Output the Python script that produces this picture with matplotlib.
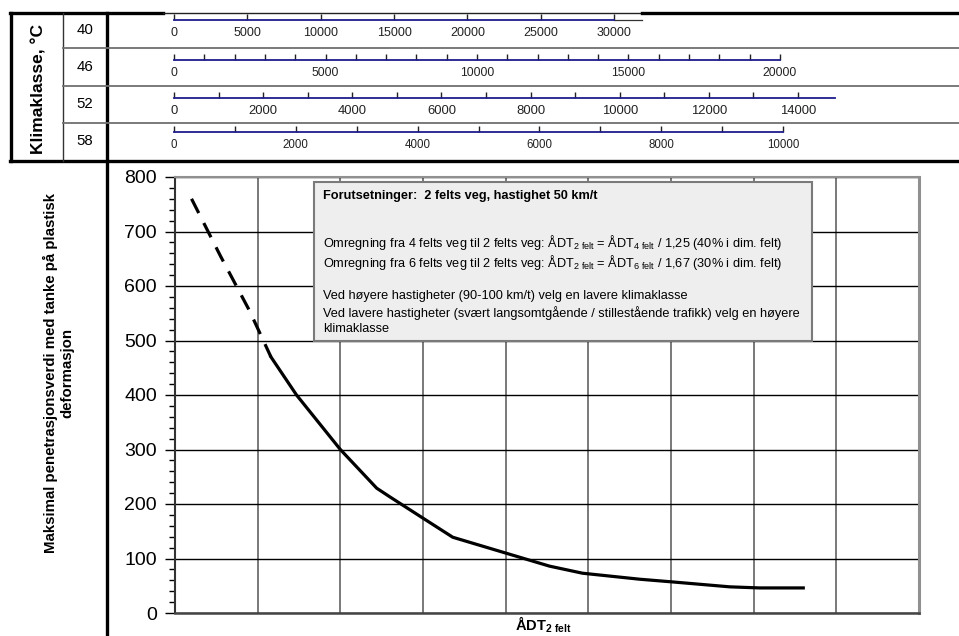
import matplotlib
matplotlib.use("Agg")
import matplotlib.pyplot as plt
from matplotlib.patches import Rectangle
from matplotlib.ticker import MultipleLocator

plt.rcParams['font.family'] = ['Liberation Sans', 'DejaVu Sans']
plt.rcParams['mathtext.fontset'] = 'custom'
plt.rcParams['mathtext.rm'] = 'Liberation Sans'
plt.rcParams['mathtext.bf'] = 'Liberation Sans:bold'

# --- data ---
klima_classes = ["40", "46", "52", "58"]
scale_max = [30000, 20000, 14000, 10000]      # last labelled ADT value per climate class
scale_label_step = [5000, 5000, 2000, 2000]
scale_minor_step = [5000, 1000, 1000, 1000]

# penetration curve, x in grid units (0..9)
dash_x = [0.2, 0.55, 0.9, 1.16]
dash_y = [760, 655, 555, 470]
curve_x = [1.16, 1.47, 2.0, 2.44, 2.6, 3.0, 3.36, 4.0, 4.53, 4.93, 5.62, 6.02, 6.71, 7.07, 7.6]
curve_y = [470, 400, 300, 229, 213, 174, 139, 110, 86, 73, 62, 57, 48, 46, 46]

box_lines = [
    ("Forutsetninger:  2 felts veg, hastighet 50 km/t", "bold"),
    ("", "normal"),
    (r"Omregning fra 4 felts veg til 2 felts veg: ÅDT$_{\rm 2\ felt}$ = ÅDT$_{\rm 4\ felt}$ / 1,25 (40% i dim. felt)", "normal"),
    (r"Omregning fra 6 felts veg til 2 felts veg: ÅDT$_{\rm 2\ felt}$ = ÅDT$_{\rm 6\ felt}$ / 1,67 (30% i dim. felt)", "normal"),
    ("", "normal"),
    ("Ved høyere hastigheter (90-100 km/t) velg en lavere klimaklasse", "normal"),
    ("Ved lavere hastigheter (svært langsomtgående / stillestående trafikk) velg en høyere", "normal"),
    ("klimaklasse", "normal"),
]

W, H = 959, 636


def rect_px(x0, y0, x1, y1):
    return [x0 / W, 1 - y1 / H, (x1 - x0) / W, (y1 - y0) / H]


fig = plt.figure(figsize=(W / 100, H / 100), dpi=100)

# --- main chart ---
ax = fig.add_axes(rect_px(175, 177, 919, 613))
ax.plot(dash_x, dash_y, color="black", lw=2.3, dashes=(5, 3.5), solid_capstyle="butt")
ax.plot(curve_x, curve_y, color="black", lw=2.3, solid_joinstyle="round")
ax.set_xlim(0, 9)
ax.set_ylim(0, 800)
ax.set_xticks(range(10))
ax.tick_params(axis="x", length=0, labelbottom=False)
ax.yaxis.set_major_locator(MultipleLocator(100))
ax.yaxis.set_minor_locator(MultipleLocator(20))
ax.tick_params(axis="y", which="major", direction="out", length=7, width=1, labelsize=14, pad=6)
ax.tick_params(axis="y", which="minor", direction="out", length=4, width=1)
ax.grid(axis="x", color="#555555", lw=1.1)
ax.grid(axis="y", color="black", lw=1)
ax.spines["left"].set_color("#333333")
ax.spines["left"].set_linewidth(1.5)
ax.spines["bottom"].set_color("#444444")
ax.spines["bottom"].set_linewidth(1.8)
ax.spines["top"].set_color("#909090")
ax.spines["top"].set_linewidth(1.5)
ax.spines["right"].set_color("#909090")
ax.spines["right"].set_linewidth(2.2)

# --- ADT scales for each climate class ---
line_y = [20, 60, 98, 132]
x_zero = 174
x_last = [614, 780, 798, 783]
x_end = [642, 780, 835, 783]
label_size = [9, 8.7, 9.4, 8.3]
for i in range(len(klima_classes)):
    per_px = scale_max[i] / (x_last[i] - x_zero)
    xmax = (x_end[i] - x_zero) * per_px
    sa = fig.add_axes(rect_px(x_zero, line_y[i] - 10, x_end[i], line_y[i]))
    sa.set_facecolor("none")
    sa.set_xlim(0, xmax)
    sa.set_ylim(0, 1)
    for s in ["top", "left", "right"]:
        sa.spines[s].set_visible(False)
    sa.spines["bottom"].set_color("#1c1c8c")
    sa.spines["bottom"].set_linewidth(1.3)
    if i == 0:
        # first scale: blue only up to the last value, thin dark line after it
        sa.spines["bottom"].set_bounds(0, scale_max[i])
        sa.plot([scale_max[i], xmax], [0, 0], color="#333333", lw=0.9, clip_on=False)
    sa.set_yticks([])
    sa.xaxis.set_minor_locator(MultipleLocator(scale_minor_step[i]))
    sa.tick_params(axis="x", which="both", direction="in", length=4.5, width=1, color="#222222",
                   labelsize=label_size[i], pad=5, labelcolor="#222222")
    ticks = list(range(0, scale_max[i] + 1, scale_label_step[i]))
    sa.set_xticks(ticks)
    sa.set_xticklabels([str(t) for t in ticks])

# --- overlay: table frame, labels, info box ---
ov = fig.add_axes([0, 0, 1, 1], zorder=10)
ov.set_xlim(0, W)
ov.set_ylim(H, 0)
ov.axis("off")

thick = 2.4
ov.plot([10, 163], [13, 13], color="black", lw=thick)
ov.plot([163, 642], [13, 13], color="#222222", lw=1.0)
ov.plot([642, W], [13, 13], color="black", lw=thick)
ov.plot([11, 11], [13, 161], color="black", lw=thick)
ov.plot([10, W], [161, 161], color="black", lw=thick)
ov.plot([63, 63], [13, 161], color="#333333", lw=1.0)
ov.plot([107, 107], [13, H], color="black", lw=thick)
for yy in [48, 86, 123]:
    ov.plot([63, W], [yy, yy], color="#707070", lw=1.3)

ov.text(39, 89, "Klimaklasse, °C", rotation=90, ha="center", va="center",
        fontsize=12.5, fontweight="bold")
row_center = [30, 67, 104, 141]
for lab, yc in zip(klima_classes, row_center):
    ov.text(85, yc, lab, ha="center", va="center", fontsize=10.8)

ov.text(59, 373, "Maksimal penetrasjonsverdi med tanke på plastisk\ndeformasjon",
        rotation=90, ha="center", va="center", multialignment="center",
        fontsize=10.8, fontweight="bold", linespacing=1.2)

ov.text(543, 625, r"ÅDT$_{\mathbf{2\ felt}}$", ha="center", va="center",
        fontsize=10.5, fontweight="bold")

ov.add_patch(Rectangle((314, 182), 498, 159, facecolor="#eeeeee", edgecolor="#7a7a7a", lw=1.5))
box_y = [196, 212, 243, 262.5, 278, 296, 313, 329]
for (txt, wt), yy in zip(box_lines, box_y):
    if txt:
        ov.text(323, yy, txt, ha="left", va="center", fontsize=9.2, fontweight=wt)

fig.savefig("out.png", dpi=100)
